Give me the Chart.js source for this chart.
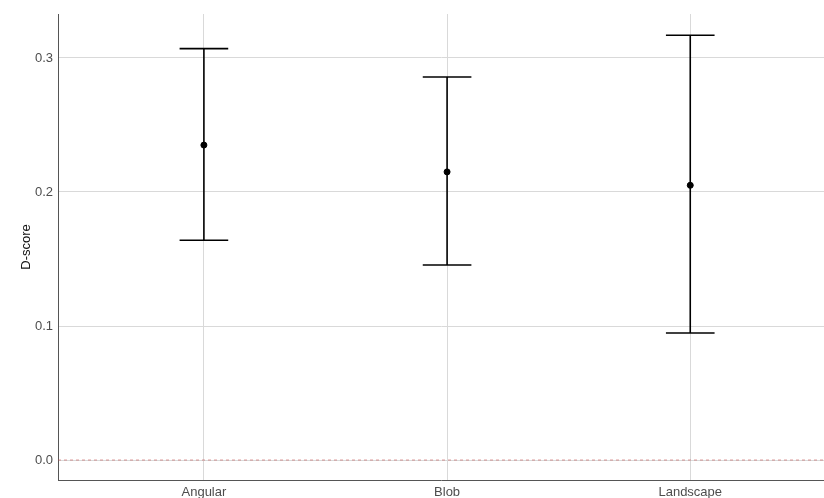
<!DOCTYPE html>
<html>
<head>
<meta charset="utf-8">
<script src="https://cdn.jsdelivr.net/npm/chart.js@4/dist/chart.umd.min.js"></script>
<style>
  html, body { margin: 0; padding: 0; background: #fff; }
  #wrap { width: 824px; height: 498px; }
</style>
</head>
<body>
<div id="wrap"><canvas id="dscoreChart" width="824" height="498"></canvas></div>
<script>
// D-score per stimulus type, mean with lower / upper interval
const categories = ['Angular', 'Blob', 'Landscape'];
const means = [0.235, 0.215, 0.205];
const lower = [0.164, 0.1455, 0.0948];
const upper = [0.307, 0.2858, 0.317];
const yTicks = [0.0, 0.1, 0.2, 0.3];

const CAP_HALF = 0.1;
const X_MIN = -0.6, X_MAX = 2.55;
const Y_MIN = -0.0149, Y_MAX = 0.3328;

const barStyle = {
  type: 'line',
  showLine: true,
  borderColor: '#000',
  borderWidth: 1.6,
  pointRadius: 0,
  fill: false
};

const datasets = [];

// zero reference line
datasets.push({
  type: 'line',
  data: [{ x: X_MIN, y: 0 }, { x: X_MAX, y: 0 }],
  borderColor: 'rgba(190,70,70,0.55)',
  borderWidth: 1,
  borderDash: [3, 3],
  pointRadius: 0,
  fill: false
});

categories.forEach((c, i) => {
  // vertical whisker
  datasets.push({ ...barStyle, data: [{ x: i, y: lower[i] }, { x: i, y: upper[i] }] });
  // caps
  datasets.push({ ...barStyle, data: [{ x: i - CAP_HALF, y: upper[i] }, { x: i + CAP_HALF, y: upper[i] }] });
  datasets.push({ ...barStyle, data: [{ x: i - CAP_HALF, y: lower[i] }, { x: i + CAP_HALF, y: lower[i] }] });
});

// means
datasets.push({
  type: 'scatter',
  data: means.map((m, i) => ({ x: i, y: m })),
  backgroundColor: '#000',
  borderColor: '#000',
  pointRadius: 3,
  pointHoverRadius: 3
});

const ctx = document.getElementById('dscoreChart').getContext('2d');
new Chart(ctx, {
  type: 'scatter',
  data: { datasets },
  options: {
    responsive: false,
    animation: false,
    events: [],
    layout: { autoPadding: false, padding: { top: 14, right: 0, bottom: 0, left: 0 } },
    plugins: { legend: { display: false }, tooltip: { enabled: false } },
    scales: {
      x: {
        type: 'linear',
        min: X_MIN,
        max: X_MAX,
        afterBuildTicks: s => { s.ticks = categories.map((c, i) => ({ value: i })); },
        afterFit: s => { s.height = 18; s.paddingLeft = 0; s.paddingRight = 0; },
        ticks: {
          callback: v => categories[v],
          color: '#4d4d4d',
          font: { family: 'Liberation Sans, Arial, sans-serif', size: 13 },
          padding: 5,
          maxRotation: 0
        },
        grid: { color: '#d9d9d9', lineWidth: 1, drawTicks: false },
        border: { display: true, color: '#555', width: 1 }
      },
      y: {
        type: 'linear',
        min: Y_MIN,
        max: Y_MAX,
        afterBuildTicks: s => { s.ticks = yTicks.map(v => ({ value: v })); },
        afterFit: s => { s.width = 58; },
        ticks: {
          callback: v => v.toFixed(1),
          color: '#4d4d4d',
          font: { family: 'Liberation Sans, Arial, sans-serif', size: 13 },
          padding: 5
        },
        grid: { color: '#d9d9d9', lineWidth: 1, drawTicks: false },
        border: { display: true, color: '#555', width: 1 },
        title: {
          display: true,
          text: 'D-score',
          color: '#111',
          font: { family: 'Liberation Sans, Arial, sans-serif', size: 13 },
          padding: { top: 19, bottom: 0 }
        }
      }
    }
  }
});
</script>
</body>
</html>
